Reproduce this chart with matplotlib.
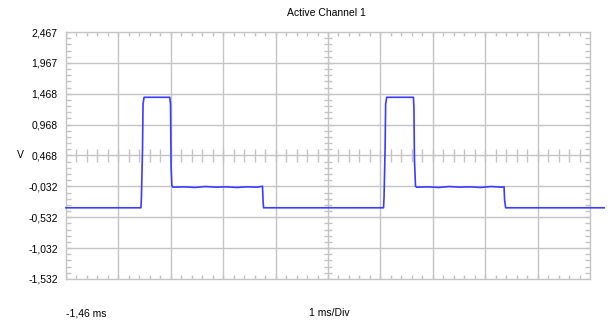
import matplotlib
matplotlib.use("Agg")
import matplotlib.pyplot as plt
import numpy as np

# osiloskop: kanal 1, 1 ms/Div, mulai di -1,46 ms
waktu_ms = [-1.46, -0.03, -0.02, 0.00, 0.01, 0.03, 0.52, 0.535, 0.545, 0.56, 0.58,
            0.80, 1.00, 1.20, 1.40, 1.60, 1.80, 2.00, 2.20, 2.29, 2.30, 2.31,
            4.60, 4.61, 4.63, 4.64, 4.66, 5.17, 5.18, 5.19, 5.21, 5.23,
            5.45, 5.65, 5.85, 6.05, 6.25, 6.45, 6.65, 6.85, 6.90, 6.91, 6.93, 8.81]
tegangan_v = [-0.379, -0.379, -0.20, 0.55, 1.30, 1.41, 1.41, 1.30, 0.30, -0.02, -0.045,
              -0.04, -0.05, -0.035, -0.045, -0.04, -0.05, -0.04, -0.045, -0.03, -0.25, -0.379,
              -0.379, -0.20, 0.60, 1.30, 1.41, 1.41, 1.25, 0.40, -0.03, -0.045,
              -0.04, -0.05, -0.035, -0.045, -0.04, -0.05, -0.035, -0.045, -0.04, -0.25, -0.379, -0.379]

label_y = ["-1,532", "-1,032", "-0,532", "-0,032", "0,468", "0,968", "1,468", "1,967", "2,467"]
x_min, x_max = -1.46, 8.54
y_min, y_max = -1.532, 2.467

plt.rcParams['font.family'] = ['Liberation Sans', 'DejaVu Sans']
fig = plt.figure(figsize=(6.09, 3.22), dpi=100)
ax = fig.add_axes([66 / 609, 1 - 279 / 322, 524 / 609, 247 / 322])
ax.set_xlim(x_min, x_max)
ax.set_ylim(y_min, y_max)

abu = "#c4c4c4"
x_mayor = np.linspace(x_min, x_max, 11)
y_mayor = np.linspace(y_min, y_max, 9)
x_minor = np.linspace(x_min, x_max, 51)
y_minor = np.linspace(y_min, y_max, 41)

# garis grid
for xv in x_mayor[1:-1]:
    ax.axvline(xv, color=abu, lw=1.0, zorder=1)
for yv in y_mayor[1:-1]:
    ax.axhline(yv, color=abu, lw=1.0, zorder=1)

# tick kecil di pinggir (ke dalam)
dx = 5 / 52.4
dy = 5 / 61.75
ax.vlines(x_minor, y_max - dy * 0.8, y_max, color=abu, lw=1.0)
ax.vlines(x_minor, y_min, y_min + dy * 0.8, color=abu, lw=1.0)
ax.hlines(y_minor, x_min, x_min + dx, color=abu, lw=1.0)
ax.hlines(y_minor, x_max - dx, x_max, color=abu, lw=1.0)

# tick silang di garis tengah
x_tengah = x_mayor[5]
y_tengah = y_mayor[4]
ax.vlines(x_minor, y_tengah - dy * 1.2, y_tengah + dy * 1.2, color=abu, lw=1.0)
ax.hlines(y_minor, x_tengah - dx * 0.8, x_tengah + dx * 0.8, color=abu, lw=1.0)

for s in ax.spines.values():
    s.set_color(abu)
    s.set_linewidth(1.0)

ax.set_xticks([])
ax.set_yticks(y_mayor)
ax.set_yticklabels(label_y, fontsize=7.5)
ax.tick_params(axis='y', length=0, pad=6)

ax.plot(waktu_ms, tegangan_v, color="#3c3cff", lw=1.2, clip_on=False, zorder=3)

fig.text(326 / 609, 1 - 13 / 322, "Active Channel 1", ha='center', va='center', fontsize=7.5)
fig.text(20 / 609, 1 - 155 / 322, "V", ha='center', va='center', fontsize=7.5)
fig.text(66 / 609, 1 - 313 / 322, "-1,46 ms", ha='left', va='center', fontsize=7.5)
fig.text(329 / 609, 1 - 313 / 322, "1 ms/Div", ha='center', va='center', fontsize=7.5)

fig.savefig("out.png", dpi=100)
